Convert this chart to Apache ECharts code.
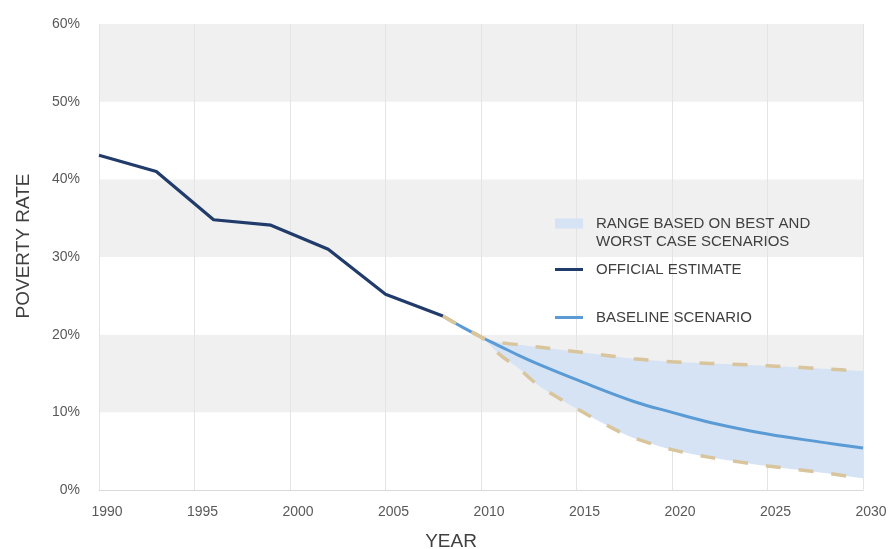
<!DOCTYPE html>
<html>
<head>
<meta charset="utf-8">
<script src="https://cdn.jsdelivr.net/npm/echarts@6/dist/echarts.min.js"></script>
<style>html,body{margin:0;padding:0;background:#fff}#c{width:890px;height:549px}</style>
</head>
<body>
<div id="c"></div>
<script>
// Official estimate
const officialYears = [1990, 1993, 1996, 1999, 2002, 2005, 2008];
const officialValues = [43.1, 41.0, 34.8, 34.1, 31.0, 25.2, 22.4];
// Baseline scenario
const baselineYears = [2008, 2009, 2010, 2011, 2012, 2013, 2015, 2018, 2020, 2022, 2025, 2028, 2030];
const baselineValues = [22.4, 21.0, 19.7, 18.5, 17.3, 16.2, 14.2, 11.4, 10.0, 8.7, 7.2, 6.1, 5.4];
// Best / worst case bounds
const boundYears = [2008, 2009, 2010, 2011, 2012, 2013, 2015, 2017, 2018, 2020, 2022, 2025, 2028, 2030];
const upperValues = [22.4, 21.0, 19.7, 19.0, 18.7, 18.4, 17.8, 17.2, 16.9, 16.5, 16.3, 16.0, 15.6, 15.3];
const lowerValues = [22.4, 21.0, 19.7, 17.4, 15.6, 13.5, 10.5, 7.8, 6.7, 5.2, 4.2, 3.1, 2.2, 1.5];
// Axis ticks
const yTicks = [0, 10, 20, 30, 40, 50, 60];
const xTicks = [1990, 1995, 2000, 2005, 2010, 2015, 2020, 2025, 2030];

const rangeName = 'RANGE BASED ON BEST AND';
const rangeName2 = 'WORST CASE SCENARIOS';
const officialName = 'OFFICIAL ESTIMATE';
const baselineName = 'BASELINE SCENARIO';

const pair = (xs, ys) => xs.map((x, i) => [x, ys[i]]);
// value first, year second, so stacking happens on the value dimension
const pairVY = (xs, ys) => xs.map((x, i) => [ys[i], x]);
const diffValues = upperValues.map((u, i) => u - lowerValues[i]);

const navy = '#213b6b';
const blue = '#5b9bd5';
const tan = '#d9c59c';
const band = '#d5e3f4';
const font = 'Liberation Sans, Arial, sans-serif';

const legendText = { color: '#404040', fontSize: 15, fontFamily: font, padding: [0, 0, 0, 8] };

const chart = echarts.init(document.getElementById('c'), null, { renderer: 'canvas' });
chart.setOption({
  animation: false,
  backgroundColor: '#ffffff',
  title: {
    text: rangeName2, left: 591, top: 229, padding: 5,
    textStyle: { color: '#404040', fontSize: 15, fontFamily: font, fontWeight: 'normal' }
  },
  grid: { left: 99, right: 27, top: 24, bottom: 59, containLabel: false, outerBoundsMode: 'none' },
  xAxis: {
    type: 'value', min: xTicks[0], max: xTicks[xTicks.length - 1], interval: 5,
    name: 'YEAR', nameLocation: 'middle', nameGap: 42,
    nameTextStyle: { color: '#404040', fontSize: 19, fontFamily: font, padding: [0, 60, 0, 0] },
    axisLine: { show: true, lineStyle: { color: '#d9d9d9', width: 1 } },
    axisTick: { show: false },
    axisLabel: { color: '#595959', fontSize: 14, fontFamily: font, margin: 15, padding: [0, 0, 0, 16], formatter: v => String(v) },
    splitLine: { show: true, lineStyle: { color: '#e4e4e4', width: 1 } }
  },
  yAxis: {
    type: 'value', min: yTicks[0], max: yTicks[yTicks.length - 1], interval: 10,
    name: 'POVERTY RATE', nameLocation: 'middle', nameGap: 66,
    nameTextStyle: { color: '#404040', fontSize: 19, fontFamily: font, padding: [0, 0, 0, 22] },
    axisLine: { show: false }, axisTick: { show: false },
    axisLabel: { color: '#595959', fontSize: 14, fontFamily: font, margin: 19, formatter: '{value}%' },
    splitLine: { show: false },
    splitArea: { show: true, areaStyle: { color: ['#ffffff', '#f0f0f0'] } }
  },
  legend: [
    { left: 550, top: 211, orient: 'vertical', itemWidth: 28, itemHeight: 10, selectedMode: false,
      data: [{ name: rangeName, icon: 'rect', itemStyle: { color: band } }], textStyle: legendText },
    { left: 550, top: 257, orient: 'vertical', itemWidth: 28, itemHeight: 3, selectedMode: false,
      data: [{ name: officialName, icon: 'rect', itemStyle: { color: navy } }], textStyle: legendText },
    { left: 550, top: 305, orient: 'vertical', itemWidth: 28, itemHeight: 3, selectedMode: false,
      data: [{ name: baselineName, icon: 'rect', itemStyle: { color: blue } }], textStyle: legendText }
  ],
  series: [
    { type: 'line', name: 'lowerBase', data: pairVY(boundYears, lowerValues), encode: { x: 1, y: 0 },
      stack: 'band', smooth: 0.3, symbol: 'none', lineStyle: { opacity: 0 }, silent: true, z: 1 },
    { type: 'line', name: rangeName, data: pairVY(boundYears, diffValues), encode: { x: 1, y: 0 },
      stack: 'band', smooth: 0.3, symbol: 'none', lineStyle: { opacity: 0 }, itemStyle: { color: band },
      areaStyle: { color: band, opacity: 1 }, silent: true, z: 1 },
    { type: 'line', name: 'upperLine', data: pair(boundYears, upperValues), smooth: 0.3, symbol: 'none',
      lineStyle: { color: tan, width: 3.5, type: [15, 18], cap: 'butt' }, z: 3 },
    { type: 'line', name: 'lowerLine', data: pair(boundYears, lowerValues), smooth: 0.3, symbol: 'none',
      lineStyle: { color: tan, width: 3.5, type: [15, 18], cap: 'butt' }, z: 3 },
    { type: 'line', name: baselineName, data: pair(baselineYears, baselineValues), smooth: 0.4, symbol: 'none',
      itemStyle: { color: blue }, lineStyle: { color: blue, width: 3 }, z: 2 },
    { type: 'line', name: officialName, data: pair(officialYears, officialValues), symbol: 'none',
      itemStyle: { color: navy }, lineStyle: { color: navy, width: 3.2 }, z: 4 }
  ]
});
</script>
</body>
</html>
